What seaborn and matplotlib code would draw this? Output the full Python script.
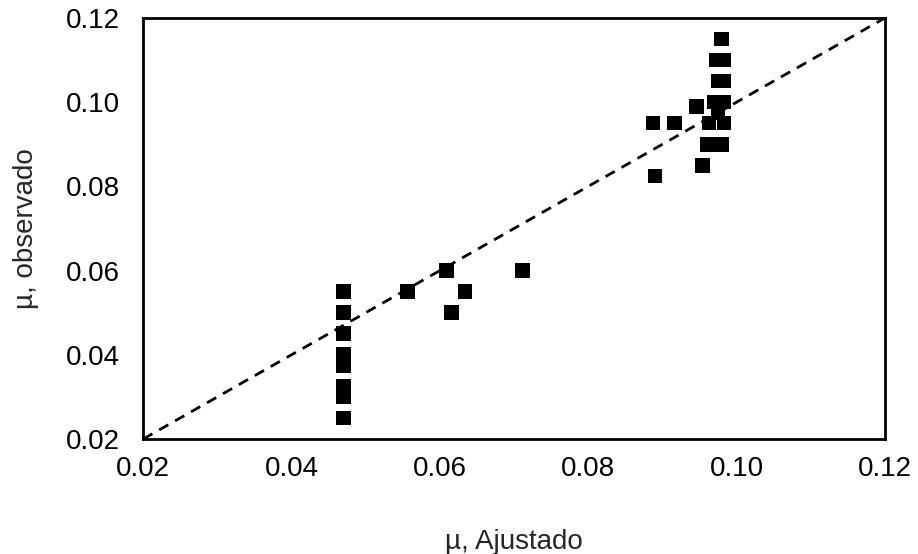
import matplotlib
matplotlib.use("Agg")
import matplotlib.pyplot as plt
import seaborn as sns
import pandas as pd
import numpy as np

mu_ajustado = [0.047, 0.047, 0.047, 0.047, 0.047, 0.047, 0.047, 0.047,
               0.0556, 0.0609, 0.0616, 0.0634, 0.0711,
               0.0887, 0.0890, 0.0916, 0.0946, 0.0954, 0.0961, 0.0980,
               0.0963, 0.0983, 0.0970, 0.0983, 0.0975,
               0.0975, 0.0983, 0.0972, 0.0983, 0.0980]
mu_observado = [0.055, 0.050, 0.045, 0.040, 0.0375, 0.0325, 0.030, 0.025,
                0.055, 0.060, 0.050, 0.055, 0.060,
                0.095, 0.0825, 0.095, 0.099, 0.085, 0.090, 0.090,
                0.095, 0.095, 0.100, 0.100, 0.0975,
                0.105, 0.105, 0.110, 0.110, 0.115]
line_vals = [0.02, 0.12]
major_ticks = [0.02, 0.04, 0.06, 0.08, 0.10, 0.12]
minor_ticks = [0.03, 0.05, 0.07, 0.09, 0.11]
tick_labels = ["0.02", "0.04", "0.06", "0.08", "0.10", "0.12"]

df = pd.DataFrame({"x": mu_ajustado, "y": mu_observado})

sns.set_style("white")
plt.rcParams['font.family'] = ['Liberation Sans', 'DejaVu Sans']

fig = plt.figure(figsize=(9.18, 5.54), dpi=100)
ax = fig.add_axes([0.156, 0.2076, 0.808, 0.76])

ax.plot(line_vals, line_vals, color="black", linestyle=(0, (3.8, 2.8)), linewidth=2.0, zorder=1)
sns.scatterplot(data=df, x="x", y="y", marker="s", s=110, color="black",
                edgecolor="none", linewidth=0, ax=ax, zorder=2)

ax.set_xlim(0.02, 0.12)
ax.set_ylim(0.02, 0.12)
ax.set_xticks(major_ticks)
ax.set_xticklabels(tick_labels)
ax.set_yticks(major_ticks)
ax.set_yticklabels(tick_labels)
ax.set_xticks(minor_ticks, minor=True)
ax.set_yticks(minor_ticks, minor=True)
ax.tick_params(which="both", direction="in", length=5, width=1.6, colors="black",
               labelsize=20, top=False, right=False)
ax.tick_params(axis="x", which="major", pad=12)
ax.tick_params(axis="y", which="major", pad=17)
for sp in ax.spines.values():
    sp.set_linewidth(2.0)
    sp.set_color("black")

ax.set_xlabel("µ, Ajustado", fontsize=20, labelpad=34)
ax.set_ylabel("µ, observado", fontsize=20, labelpad=19)

fig.savefig("out.png", dpi=100)
